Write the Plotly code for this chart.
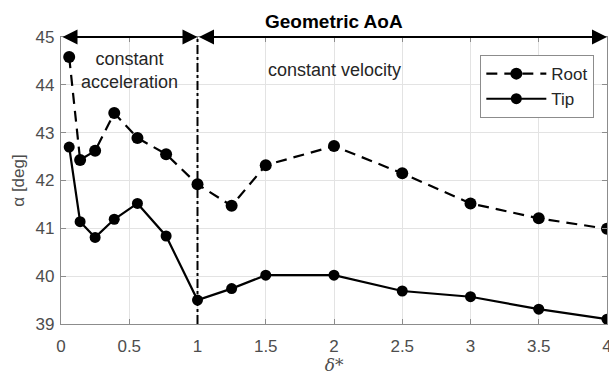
import plotly.graph_objects as go

delta = [0.06, 0.14, 0.25, 0.39, 0.56, 0.77, 1.0, 1.25, 1.5, 2.0, 2.5, 3.0, 3.5, 4.0]
root = [44.58, 42.43, 42.62, 43.41, 42.89, 42.55, 41.92, 41.47, 42.32, 42.72, 42.15, 41.52, 41.21, 40.99]
tip = [42.70, 41.14, 40.81, 41.19, 41.52, 40.84, 39.50, 39.74, 40.02, 40.02, 39.69, 39.57, 39.31, 39.10]

xticks = [0, 0.5, 1, 1.5, 2, 2.5, 3, 3.5, 4]
yticks = [39, 40, 41, 42, 43, 44, 45]

FONT = "Liberation Sans, Arial, sans-serif"
TICKC = "#4d4d4d"

fig = go.Figure()
fig.add_trace(go.Scatter(x=delta, y=root, name="Root", mode="lines+markers",
                         line=dict(color="black", width=2.2, dash="11px,7px"),
                         marker=dict(color="black", size=12, symbol="circle")))
fig.add_trace(go.Scatter(x=delta, y=tip, name="Tip", mode="lines+markers",
                         line=dict(color="black", width=2.2),
                         marker=dict(color="black", size=11, symbol="circle")))

# vertical dash-dot separator
fig.add_shape(type="line", x0=1, x1=1, y0=39, y1=45, xref="x", yref="y",
              line=dict(color="black", width=2, dash="dashdot"))

# double arrows at the top
for x0, x1 in [(0, 1), (1, 4)]:
    fig.add_annotation(x=x1, y=45, ax=x0, ay=45, xref="x", yref="y", axref="x", ayref="y",
                       text="", showarrow=True, arrowhead=2, startarrowhead=2,
                       arrowside="end+start", arrowsize=1.5, startarrowsize=1.5,
                       arrowwidth=2, arrowcolor="black")

fig.add_annotation(x=0.5, y=44.30, xref="x", yref="y", text="constant<br>acceleration",
                   showarrow=False, font=dict(family=FONT, size=18, color="#262626"))
fig.add_annotation(x=2.0, y=44.30, xref="x", yref="y", text="constant velocity",
                   showarrow=False, font=dict(family=FONT, size=18, color="#262626"))
fig.add_annotation(x=0.5, y=1.0, xref="paper", yref="paper", yanchor="middle", yshift=16,
                   text="<b>Geometric AoA</b>", showarrow=False,
                   font=dict(family=FONT, size=19, color="black"))

axis_common = dict(showgrid=True, gridcolor="#e3e3e3", gridwidth=1,
                   showline=True, linecolor="#8c8c8c", linewidth=1.2, mirror="allticks",
                   ticks="inside", ticklen=5, tickcolor="#8c8c8c", zeroline=False,
                   ticklabeloverflow="allow", automargin=False,
                   tickfont=dict(family=FONT, size=17, color=TICKC))

fig.update_layout(
    width=609, height=380,
    margin=dict(l=61, r=2, t=37, b=56),
    paper_bgcolor="white", plot_bgcolor="white",
    showlegend=True,
    legend=dict(x=0.768, y=0.937, xanchor="left", yanchor="top",
                bordercolor="#8c8c8c", borderwidth=1, bgcolor="white",
                font=dict(family=FONT, size=17, color="#262626"),
                tracegroupgap=0, itemwidth=60),
    xaxis=dict(range=[0, 4], tickvals=xticks, ticktext=[str(t) for t in xticks],
               ticklabelstandoff=6,
               title=dict(text="<i>δ</i>*", standoff=4,
                          font=dict(family="DejaVu Serif, serif", size=17, color=TICKC)),
               **axis_common),
    yaxis=dict(range=[39, 45], tickvals=yticks, ticktext=[str(t) for t in yticks],
               ticklabelstandoff=2,
               title=dict(text="α [deg]", standoff=6,
                          font=dict(family=FONT, size=17, color=TICKC)),
               **axis_common),
)

fig.write_html("out.html")
